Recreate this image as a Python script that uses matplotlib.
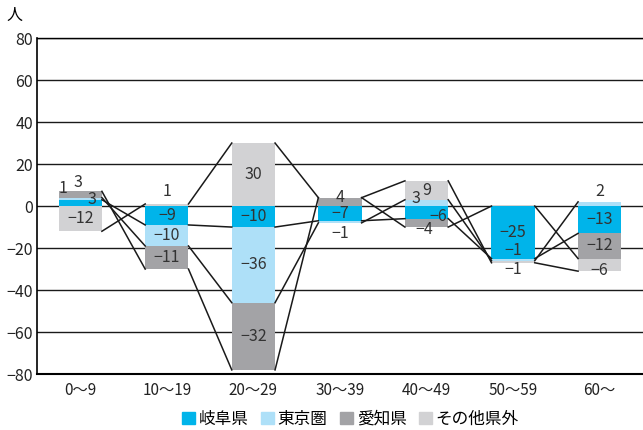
import numpy as np
import matplotlib
matplotlib.use("Agg")
import matplotlib.pyplot as plt
from matplotlib.patches import Patch

plt.rcParams['font.family'] = ['Noto Sans CJK JP', 'DejaVu Sans']

# 年齢階級
categories = ["0～9", "10～19", "20～29", "30～39", "40～49", "50～59", "60～"]
series_names = ["岐阜県", "東京圏", "愛知県", "その他県外"]

gifu = [3, -9, -10, -7, -6, -25, -13]
tokyo = [1, -10, -36, -1, 3, -1, 2]
aichi = [3, -11, -32, 4, -4, 0, -12]
other = [-12, 1, 30, 0, 9, -1, -6]

colors = ["#00b4ea", "#aee0f8", "#a3a3a6", "#d2d2d4"]

# ラベル位置の微調整 (系列番号, 区分番号) -> (dx, dy)
nudge = {
    (0, 0): (0.14, 1.4), (1, 0): (-0.2, 4.7), (2, 0): (-0.03, 5.5),
    (3, 1): (0, 6.2),
    (2, 3): (0, 2.3), (1, 3): (0, -5.5),
    (1, 4): (-0.12, 2.3), (2, 4): (-0.03, -3), (0, 4): (0.14, -1.8),
    (1, 5): (0, 4.5), (3, 5): (0, -3.5),
    (1, 6): (0, 5.7), (3, 6): (0, -2.5),
}

data = np.array([gifu, tokyo, aichi, other], dtype=float)
x = np.arange(len(categories))
width = 0.5

fig = plt.figure(figsize=(6.43, 4.30), dpi=100)
ax = fig.add_axes([0.0575, 0.13, 0.9425, 0.7816])

pos_base = np.zeros(len(categories))
neg_base = np.zeros(len(categories))
ends = []
for s, vals in enumerate(data):
    bottoms = np.where(vals >= 0, pos_base, neg_base)
    ax.bar(x, vals, width, bottom=bottoms, color=colors[s], zorder=2)
    for i, v in enumerate(vals):
        if v == 0:
            continue
        dx, dy = nudge.get((s, i), (0, 0))
        ax.text(x[i] + dx, bottoms[i] + v / 2 + dy, f"{int(v)}".replace("-", "−"),
                ha="center", va="center", fontsize=11.5, color="#333333", zorder=4)
    pos_base = np.where(vals >= 0, pos_base + vals, pos_base)
    neg_base = np.where(vals < 0, neg_base + vals, neg_base)
    ends.append(bottoms + vals)

# 系列線
for e in ends:
    for i in range(len(categories) - 1):
        ax.plot([x[i] + width / 2, x[i + 1] - width / 2], [e[i], e[i + 1]],
                color="#1a1a1a", lw=1.1, zorder=3)

ax.set_xlim(-0.5, len(categories) - 0.5)
ax.set_ylim(-80, 80)
ax.set_yticks(np.arange(-80, 81, 20))
ax.set_xticks(x)
ax.set_xticklabels(categories, fontsize=11)
ax.tick_params(axis="y", labelsize=11.5, length=0, pad=3, labelcolor="#222222")
ax.tick_params(axis="x", length=0, pad=6, labelcolor="#222222")
ax.yaxis.grid(True, color="#1a1a1a", lw=1.0, zorder=1)
ax.set_axisbelow(True)
ax.spines["right"].set_visible(False)
ax.spines["left"].set_linewidth(1.2)
ax.spines["bottom"].set_linewidth(1.5)
ax.spines["top"].set_linewidth(1.0)

fig.text(0.022, 0.963, "人", fontsize=11.5, ha="center", va="center")

handles = [Patch(color=c) for c in colors]
fig.legend(handles, series_names, loc="lower center", ncol=4, frameon=False,
           bbox_to_anchor=(0.545, -0.03), handlelength=0.8, handleheight=0.8,
           handletextpad=0.2, columnspacing=0.75, fontsize=12)

fig.savefig("out.png", dpi=100)
